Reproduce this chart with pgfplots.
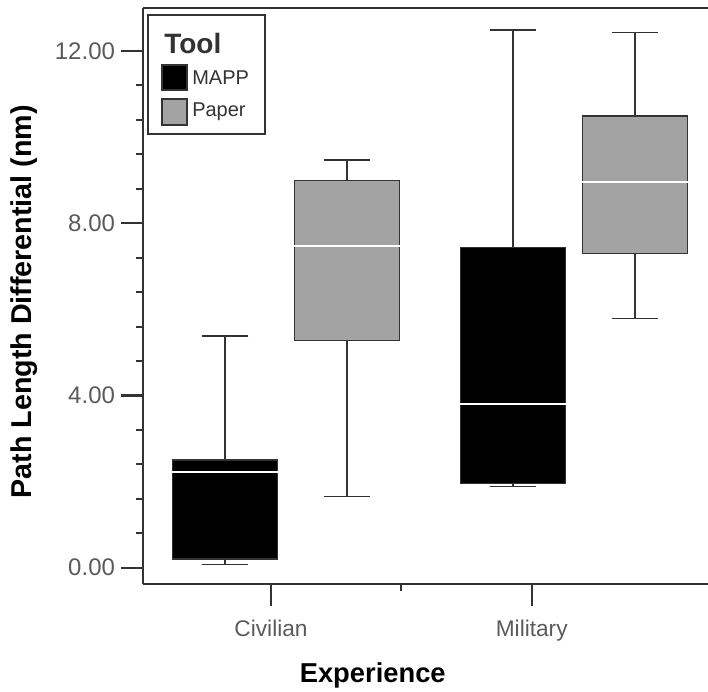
\documentclass[border=0pt]{standalone}
\usepackage{pgfplots}
\pgfplotsset{compat=1.18}
\usepgfplotslibrary{statistics}
\usepackage{fontspec}
\setmainfont{Liberation Sans}
\definecolor{papergray}{HTML}{A3A3A3}
\definecolor{edge}{HTML}{333333}
\definecolor{ticktext}{HTML}{5A5A5A}
\begin{document}
\begin{tikzpicture}
\useasboundingbox (0,0) rectangle (531pt,519pt);
\begin{axis}[
  at={(107.25pt,81pt)}, anchor=south west,
  scale only axis, width=423.75pt, height=432pt,
  xmin=0.509, xmax=2.676, ymin=-0.379, ymax=13.0,
  axis x line*=bottom, axis y line*=left,
  axis line style={edge, line width=1.2pt, -},
  xtick={1,2}, xticklabels={Civilian,Military},
  minor xtick={1.5},
  ytick={0,4,8,12},
  minor y tick num=4,
  /pgf/number format/assume math mode=true,
  tick align=outside,
  major tick length=16.5pt, minor tick length=5.25pt,
  major tick style={edge, line width=1.6pt},
  minor tick style={edge, line width=1.5pt},
  tick label style={text=ticktext},
  yticklabel style={font=\fontsize{18}{18}\selectfont, xshift=-1pt, /pgf/number format/.cd, fixed, fixed zerofill, precision=2},
  xticklabel style={font=\fontsize{17}{17}\selectfont, yshift=-7pt},
  xlabel={Experience}, ylabel={Path Length Differential (nm)},
  xlabel style={font=\bfseries\fontsize{20.5}{20.5}\selectfont, at={(axis description cs:0.4066,-0.158)}, anchor=center},
  ylabel style={font=\bfseries\fontsize{21.5}{21.5}\selectfont, at={(axis description cs:-0.2106,0.49)}, anchor=center},
  boxplot/draw direction=y,
  clip=false,
]
% Civilian MAPP
\addplot[fill=black, draw=edge, line width=0.9pt,
  boxplot prepared={draw position=0.8236, lower whisker=0.07, lower quartile=0.20,
    median=2.22, upper quartile=2.50, upper whisker=5.38,
    box extend=0.404, whisker extend=0.18,
    every median/.style={draw=white, line width=1pt}}] coordinates {};
% Civilian Paper
\addplot[fill=papergray, draw=edge, line width=0.9pt,
  boxplot prepared={draw position=1.2915, lower whisker=1.65, lower quartile=5.28,
    median=7.47, upper quartile=9.00, upper whisker=9.47,
    box extend=0.404, whisker extend=0.18,
    every median/.style={draw=white, line width=1pt}}] coordinates {};
% Military MAPP
\addplot[fill=black, draw=edge, line width=0.9pt,
  boxplot prepared={draw position=1.928, lower whisker=1.89, lower quartile=1.96,
    median=3.80, upper quartile=7.44, upper whisker=12.49,
    box extend=0.404, whisker extend=0.18,
    every median/.style={draw=white, line width=1pt}}] coordinates {};
% Military Paper
\addplot[fill=papergray, draw=edge, line width=0.9pt,
  boxplot prepared={draw position=2.396, lower whisker=5.79, lower quartile=7.29,
    median=8.96, upper quartile=10.49, upper whisker=12.44,
    box extend=0.404, whisker extend=0.18,
    every median/.style={draw=white, line width=1pt}}] coordinates {};
\draw[edge, line width=1.2pt] (rel axis cs:0,1) -- (rel axis cs:1,1);
\end{axis}
% legend, in pixel coordinates of the reference
\begin{scope}[yshift=519pt, x=0.75pt, y=-0.75pt]
  \draw[edge, line width=1.1pt, fill=white] (148,15) rectangle (265,134);
  \node[anchor=west, inner sep=0pt, text=edge, font=\bfseries\fontsize{21}{21}\selectfont] at (164,44) {Tool};
  \filldraw[fill=black, draw=edge, line width=0.9pt] (162,65) rectangle (187,90);
  \filldraw[fill=papergray, draw=edge, line width=0.9pt] (162,99) rectangle (187,125);
  \node[anchor=west, inner sep=0pt, text=edge, font=\fontsize{15}{15}\selectfont] at (192,78) {MAPP};
  \node[anchor=west, inner sep=0pt, text=edge, font=\fontsize{15}{15}\selectfont] at (192,112) {Paper};
\end{scope}
\end{tikzpicture}
\end{document}
